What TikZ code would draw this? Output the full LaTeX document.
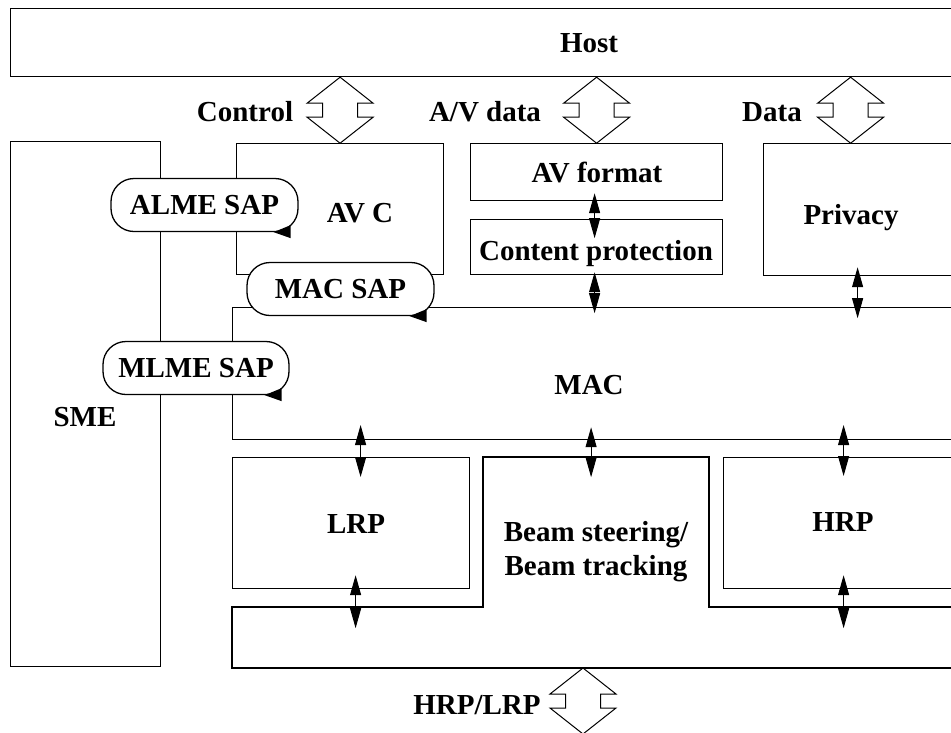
\documentclass[tikz,border=0pt]{standalone}
\usepackage{fontspec}
\setmainfont{Liberation Serif}
\usetikzlibrary{arrows.meta,calc}

\tikzset{
  box/.style={draw, line width=1.2pt, anchor=north west, inner sep=0pt},
  lbl/.style={inner sep=0pt, text height=19pt, text depth=0pt},
  sap/.style={draw, fill=white, line width=1.3pt, rounded corners=23pt,
    minimum width=187pt, minimum height=53pt, inner sep=0pt,
    text height=19pt, text depth=0pt},
  biarrow/.style={{Triangle[length=20pt,width=11pt]}-{Triangle[length=20pt,width=11pt]}, line width=1pt},
  pics/iface/.style={code={
    \draw[line width=1pt, fill=white] (0,0) -- (33,26) -- (17.5,26) -- (17.5,40)
      -- (33,40) -- (0,66) -- (-33,40) -- (-17.5,40) -- (-17.5,26) -- (-33,26) -- cycle;
  }}
}

\begin{document}
\begin{tikzpicture}[x=1pt,y=-1pt]
\tikzstyle{every node}=[font=\bfseries\fontsize{29}{34}\selectfont]

% page frame, the blocks run on past the right edge
\useasboundingbox (0,0) rectangle (951,732);
\clip (0,0) rectangle (951,732);

% blocks
\node[box, minimum width=943pt, minimum height=68pt] (host) at (10,8) {};
\node[box, minimum width=150pt, minimum height=525pt] (sme) at (10,141) {};
\node[box, minimum width=207pt, minimum height=131pt] (avc) at (236,143) {};
\node[box, minimum width=252pt, minimum height=57pt] (avf) at (470,143) {};
\node[box, minimum width=252pt, minimum height=55pt] (cp) at (470,219) {};
\node[box, minimum width=190pt, minimum height=132pt] (priv) at (763,143) {};
\node[box, minimum width=721pt, minimum height=132pt] (mac) at (232,307) {};
\node[box, minimum width=237pt, minimum height=131pt] (lrp) at (232,457) {};
\node[box, minimum width=230pt, minimum height=131pt] (hrp) at (723,457) {};

% beam steering block joined to the bottom block
\coordinate (physw) at (232,668);
\draw[line width=1.2pt] (953,607) -- (709,607) -- (709,457) -- (483,457) -- (483,607)
  -- (232,607) -- (physw) -- (953,668);

% labels
\node[lbl] at (589,43) {Host};
\node[lbl] at (85,417) {SME};
\node[lbl] at (360,213) {AV C};
\node[lbl] at (597,173) {AV format};
\node[lbl] at (596,251) {Content protection};
\node[lbl] at (851,215) {Privacy};
\node[lbl] at (589,385) {MAC};
\node[lbl] at (356,524) {LRP};
\node[lbl] at (843,522) {HRP};
\node[inner sep=0pt, align=center] (beam) at (596,551.5) {Beam steering/\\Beam tracking};

% interfaces
\pic at (host.south -| avc.north) {iface};
\pic at (host.south -| avf.north) {iface};
\pic at ($(host.south -| priv.north)+(-8,0)$) {iface};
\pic at ($(physw)+(351,0)$) {iface};
\node[lbl] at (245,112) {Control};
\node[lbl] at (485,112) {A/V data};
\node[lbl] at (772,112) {Data};
\node[lbl] at (477,705) {HRP/LRP};

% links between blocks
\draw[biarrow] ($(avf.south)+(-2,-8)$) -- ($(avf.south)+(-2,37)$);
\draw[biarrow] ($(cp.south)+(-2,-3)$) -- ($(cp.south)+(-2,38)$);
\draw[biarrow] ($(priv.south)+(-1,-9)$) -- ($(priv.south)+(-1,42)$);
\draw[biarrow] ($(lrp.north)+(9.5,-32)$) -- ($(lrp.north)+(9.5,20)$);
\draw[biarrow] ($(mac.south)+(-2,-13)$) -- ($(mac.south)+(-2,37)$);
\draw[biarrow] ($(hrp.north)+(5,-32)$) -- ($(hrp.north)+(5,19)$);
\draw[biarrow] ($(lrp.south)+(4.5,-14)$) -- ($(lrp.south)+(4.5,39)$);
\draw[biarrow] ($(hrp.south)+(5,-14)$) -- ($(hrp.south)+(5,39)$);

% service access points
\node[sap] (alme) at (204.5,205) {ALME SAP};
\node[sap] (macsap) at (340.5,289) {MAC SAP};
\node[sap, minimum width=186pt] (mlme) at (196,368) {MLME SAP};
\foreach \s in {alme,macsap,mlme}
  \fill ($(\s.south east)+(-25,0)$) -- ($(\s.south east)+(-8,-7)$)
    -- ($(\s.south east)+(-8,6)$) -- cycle;

\end{tikzpicture}
\end{document}
